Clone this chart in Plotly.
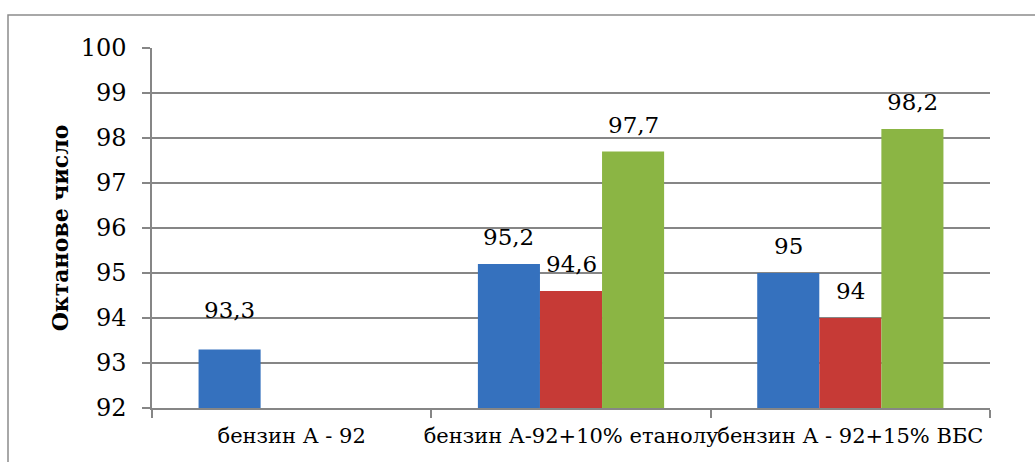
import plotly.graph_objects as go

# Octane numbers for three fuel blends, three measurements each
categories = ["бензин А - 92", "бензин А-92+10% етанолу", "бензин А - 92+15% ВБС"]
series_1 = [93.3, 95.2, 95.0]
series_2 = [None, 94.6, 94.0]
series_3 = [None, 97.7, 98.2]
y_ticks = [92, 93, 94, 95, 96, 97, 98, 99, 100]

colors = ["#3571be", "#c63a36", "#8bb544"]
FONT = "DejaVu Serif"

W, H = 1035, 462
L, R, T, B = 152, 45, 48, 54

fig = go.Figure()
all_series = [series_1, series_2, series_3]
for vals, col in zip(all_series, colors):
    fig.add_trace(go.Bar(
        x=categories, y=[v - 92 if v is not None else None for v in vals],
        base=92, marker=dict(color=col, line=dict(width=0)),
        hoverinfo="skip", showlegend=False,
    ))

# value labels above each bar
def fmt(v):
    s = f"{v:.1f}".rstrip("0").rstrip(".")
    return s.replace(".", ",")

label_shift = {(0, 0): 40}
n = len(all_series)
for si, vals in enumerate(all_series):
    for ci, v in enumerate(vals):
        if v is None:
            continue
        xpos = ci + (si - (n - 1) / 2) * (2 / 3) / n
        fig.add_annotation(
            x=xpos, y=v, xref="x", yref="y", text=fmt(v), showarrow=False,
            yanchor="middle", yshift=label_shift.get((si, ci), 27),
            font=dict(family=FONT, size=23, color="#000000"),
        )

pw = W - L - R
ph = H - T - B
# outer chart frame (top and left edges visible)
fig.add_shape(type="rect", xref="paper", yref="paper",
              x0=(8 - L) / pw, x1=(W + 10 - L) / pw,
              y0=-(H + 10 - T - ph) / ph, y1=1 + (T - 15) / ph,
              line=dict(color="#8c8c8c", width=1.5), layer="below")

fig.update_layout(
    width=W, height=H,
    margin=dict(l=L, r=R, t=T, b=B, pad=0),
    paper_bgcolor="white", plot_bgcolor="white",
    barmode="group", bargap=1 / 3, bargroupgap=0,
    font=dict(family=FONT, color="#000000"),
    xaxis=dict(
        type="category", range=[-0.5, 2.5], tickangle=0,
        showline=True, linecolor="#868686", linewidth=1.5,
        showgrid=False, ticks="outside", ticklen=8, tickcolor="#868686",
        tickwidth=1.5, tickson="boundaries", ticklabelstandoff=8,
        tickfont=dict(family=FONT, size=21), zeroline=False,
    ),
    yaxis=dict(
        range=[92, 100], tickvals=y_ticks,
        showline=True, linecolor="#868686", linewidth=1.5,
        showgrid=True, gridcolor="#868686", gridwidth=1.5,
        ticks="outside", ticklen=8, tickcolor="#868686", tickwidth=1.5,
        ticklabelstandoff=11,
        tickfont=dict(family=FONT, size=24), zeroline=False,
        title=dict(text="<b>Октанове число</b>", font=dict(family=FONT, size=22),
                   standoff=6),
    ),
)

fig.write_html("out.html")
